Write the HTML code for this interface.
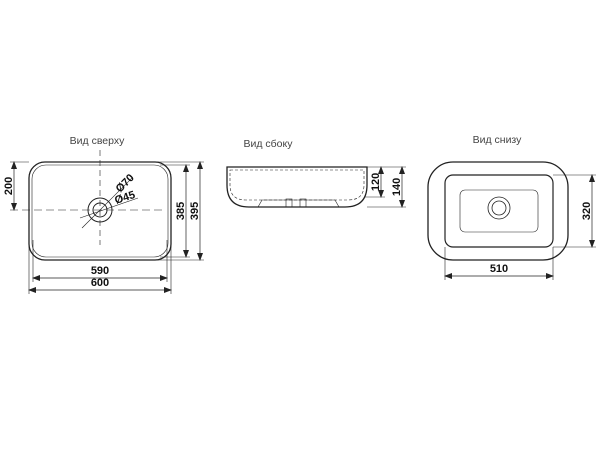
<!DOCTYPE html>
<html><head><meta charset="utf-8"><style>body{margin:0;background:#fff}svg{display:block}</style></head><body>
<svg width="600" height="450" viewBox="0 0 600 450" xmlns="http://www.w3.org/2000/svg" font-family="Liberation Sans, DejaVu Sans, sans-serif">
<defs><marker id="a" markerWidth="8" markerHeight="6" refX="7" refY="3" orient="auto-start-reverse" markerUnits="userSpaceOnUse"><path d="M0,0 L8,3 L0,6z" fill="#222"/></marker></defs>
<g fill="none" stroke="#222" stroke-width="1">
<rect x="29" y="162" width="142" height="98" rx="16" stroke-width="1.3"/>
<rect x="32" y="165" width="136" height="92" rx="14" stroke-width="0.6"/>
<circle cx="100" cy="210" r="12"/><circle cx="100" cy="210" r="7"/>
<line x1="100" y1="150" x2="100" y2="245" stroke-dasharray="6,4" stroke-width="0.6"/>
<line x1="10" y1="210" x2="165" y2="210" stroke-dasharray="8,4" stroke-width="0.6"/>
<line x1="10" y1="162" x2="29" y2="162" stroke-width="0.6"/>
<line x1="14" y1="162" x2="14" y2="210" marker-start="url(#a)" marker-end="url(#a)" stroke-width="0.7"/>
<line x1="160" y1="165" x2="190" y2="165" stroke-width="0.6"/><line x1="160" y1="257" x2="190" y2="257" stroke-width="0.6"/>
<line x1="150" y1="162" x2="204" y2="162" stroke-width="0.6"/><line x1="150" y1="260" x2="204" y2="260" stroke-width="0.6"/>
<line x1="186" y1="165" x2="186" y2="257" marker-start="url(#a)" marker-end="url(#a)" stroke-width="0.7"/>
<line x1="200" y1="162" x2="200" y2="260" marker-start="url(#a)" marker-end="url(#a)" stroke-width="0.7"/>
<line x1="33" y1="240" x2="33" y2="282" stroke-width="0.6"/><line x1="167" y1="240" x2="167" y2="282" stroke-width="0.6"/>
<line x1="29" y1="240" x2="29" y2="294" stroke-width="0.6"/><line x1="171" y1="240" x2="171" y2="294" stroke-width="0.6"/>
<line x1="33" y1="278" x2="167" y2="278" marker-start="url(#a)" marker-end="url(#a)" stroke-width="0.7"/>
<line x1="29" y1="290" x2="171" y2="290" marker-start="url(#a)" marker-end="url(#a)" stroke-width="0.7"/>
<line x1="82" y1="228" x2="132" y2="178" stroke-width="0.6"/>
<line x1="80" y1="218" x2="138" y2="198" stroke-width="0.6"/>
<path d="M227,167 L367,167 L367,185 Q367,207 345,207 L249,207 Q227,207 227,185 Z" stroke-width="1.3"/>
<path d="M230,170 L364,170 L364,185 Q364,200 348,200 L246,200 Q230,200 230,185 Z" stroke-dasharray="3,2" stroke-width="0.6"/>
<path d="M258,207 L262,200 L335,200 L339,207" stroke-width="0.6"/>
<rect x="286" y="199" width="6" height="8" stroke-width="0.6"/><rect x="300" y="199" width="6" height="8" stroke-width="0.6"/>
<line x1="367" y1="167" x2="406" y2="167" stroke-width="0.6"/><line x1="364" y1="197" x2="385" y2="197" stroke-width="0.6"/><line x1="367" y1="207" x2="406" y2="207" stroke-width="0.6"/>
<line x1="381" y1="167" x2="381" y2="197" marker-start="url(#a)" marker-end="url(#a)" stroke-width="0.7"/>
<line x1="402" y1="167" x2="402" y2="207" marker-start="url(#a)" marker-end="url(#a)" stroke-width="0.7"/>
<rect x="428" y="162" width="140" height="98" rx="25" stroke-width="1.3"/>
<rect x="445" y="175" width="108" height="72" rx="8" stroke-width="1.2"/>
<rect x="460" y="190" width="78" height="42" rx="5" stroke-width="0.6"/>
<circle cx="499" cy="208" r="11" stroke-width="0.8"/><circle cx="499" cy="208" r="7" stroke-width="0.8"/>
<line x1="553" y1="175" x2="596" y2="175" stroke-width="0.6"/><line x1="553" y1="247" x2="596" y2="247" stroke-width="0.6"/>
<line x1="592" y1="175" x2="592" y2="247" marker-start="url(#a)" marker-end="url(#a)" stroke-width="0.7"/>
<line x1="445" y1="247" x2="445" y2="280" stroke-width="0.6"/><line x1="553" y1="247" x2="553" y2="280" stroke-width="0.6"/>
<line x1="445" y1="276" x2="553" y2="276" marker-start="url(#a)" marker-end="url(#a)" stroke-width="0.7"/>
</g>
<g fill="#444" font-size="10.5">
<text x="97" y="144" text-anchor="middle">Вид сверху</text>
<text x="268" y="147" text-anchor="middle">Вид сбоку</text>
<text x="497" y="143" text-anchor="middle">Вид снизу</text>
</g>
<g fill="#111" font-size="11" font-weight="bold">
<text transform="translate(12,186) rotate(-90)" text-anchor="middle">200</text>
<text transform="translate(184,211) rotate(-90)" text-anchor="middle">385</text>
<text transform="translate(198,211) rotate(-90)" text-anchor="middle">395</text>
<text x="100" y="274" text-anchor="middle">590</text>
<text x="100" y="286" text-anchor="middle">600</text>
<text transform="translate(120,193) rotate(-45)">Ø70</text>
<text transform="translate(116,204) rotate(-18)">Ø45</text>
<text transform="translate(379,182) rotate(-90)" text-anchor="middle">120</text>
<text transform="translate(400,187) rotate(-90)" text-anchor="middle">140</text>
<text transform="translate(590,211) rotate(-90)" text-anchor="middle">320</text>
<text x="499" y="272" text-anchor="middle">510</text>
</g>
</svg>
</body></html>
